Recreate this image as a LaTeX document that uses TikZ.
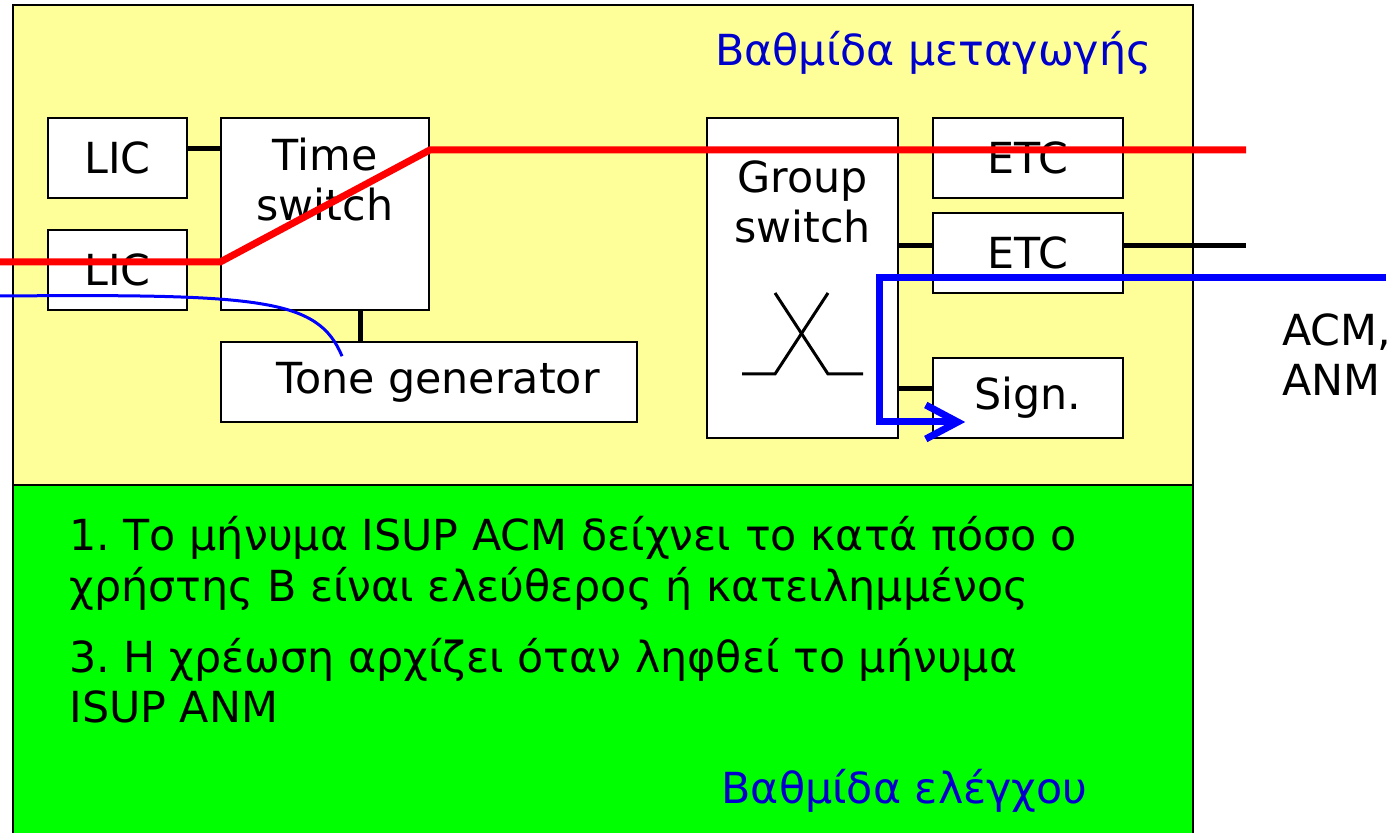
\documentclass[tikz,border=0pt]{standalone}
\usepackage{fontspec}
\setmainfont{DejaVu Sans}
\usetikzlibrary{positioning,arrows.meta}
\definecolor{panelyellow}{RGB}{255,255,153}
\definecolor{panelgreen}{RGB}{0,255,0}
\definecolor{titleblue}{RGB}{0,0,204}
\newcommand{\diagfont}{\fontsize{21.4}{25}\selectfont\frenchspacing}
\begin{document}
\begin{tikzpicture}[
    x=0.5pt, y=-0.5pt,
    node distance=10pt,
    panel/.style={rectangle, draw, line width=1pt, inner sep=0pt},
    unit/.style={rectangle, draw, line width=0.8pt, fill=white, font=\diagfont, inner sep=0pt, minimum width=95pt, minimum height=40pt},
    txt/.style={font=\diagfont, inner sep=0pt},
    link/.style={line width=2.5pt},
    speech/.style={red, line width=3.5pt},
    signal/.style={blue, line width=3.5pt}
  ]
  \useasboundingbox (0,0) rectangle (1391,833);

  % Panels
  \node[panel, fill=panelgreen, minimum width=590pt, minimum height=180pt] (control) at (603,665) {};
  \node[panel, fill=panelyellow, minimum width=590pt, minimum height=240pt] (switching) at (603,245) {};
  \node[txt, titleblue, anchor=base east] (switchtitle) at (1152,66) {Βαθμίδα μεταγωγής};
  \node[txt, titleblue, anchor=base east] (controltitle) at (1088,803) {Βαθμίδα ελέγχου};

  % Subscriber side
  \node[unit, minimum width=69.5pt] (lic1) at (117.5,158) {LIC};
  \node[unit, minimum width=69.5pt] (lic2) at (117.5,270) {LIC};
  \node[unit, minimum width=104pt, minimum height=96pt] (tsw) at (325,214) {};
  \node[txt, align=center, below=10pt of tsw.north] (tswtext) {Time\\switch};
  \node[unit, minimum width=208pt] (tone) at (429,382) {\hspace{9pt}Tone generator};

  % Trunk side
  \node[unit, minimum width=95.5pt, minimum height=160pt] (gsw) at (802.5,278) {};
  \node[txt, align=center, below=21.5pt of gsw.north] (gswtext) {Group\\switch};
  \node[unit] (etc1) at (1028,158) {ETC};
  \node[unit] (etc2) at (1028,253) {ETC};
  \node[unit] (sign) at (1028,398) {Sign.};
  \node[txt, anchor=base west, align=left] (msgs) at (1282,396) {ACM,\\ANM};

  % Group switch symbol
  \draw[line width=1.5pt] (742,374) -- (775,374) -- (828,293);
  \draw[line width=1.5pt] (775,293) -- (828,374) -- (863,374);

  % Internal links
  \draw[link] ([yshift=4.5pt]lic1.east) -- ([yshift=4.5pt]lic1.east -| tsw.west);
  \draw[link] ([xshift=17.5pt]tsw.south) -- ([xshift=17.5pt]tsw.south |- tone.north);
  \draw[link] ([yshift=3.5pt]etc2.west -| gsw.east) -- ([yshift=3.5pt]etc2.west);
  \draw[link] ([yshift=4.5pt]sign.west -| gsw.east) -- ([yshift=4.5pt]sign.west);
  \coordinate (trunkout) at (1246,246);
  \draw[link] (etc2.east |- trunkout) -- (trunkout);

  % Speech path
  \coordinate (redin) at (0,262);
  \coordinate (redout) at (1246,150);
  \draw[speech] (redin) -- (redin -| tsw.west) -- (tsw.east |- redout) -- (redout);

  % Tone to subscriber
  \coordinate (tonein) at (0,296);
  \draw[blue, line width=1.5pt] (tonein) .. controls (260,294) and (318,298) .. ([xshift=-43.5pt,yshift=-7.5pt]tone.north);

  % ISUP messages to signalling
  \coordinate (sigin) at (1386,278);
  \coordinate (sigturn) at (879,278);
  \draw[signal, -{Straight Barb[length=16pt,width=17pt]}] (sigin) -- (sigturn) |- ([xshift=16.5pt,yshift=-12pt]sign.west);

  % Control text
  \node[txt, anchor=base west, align=left] (note1) at (69,601) {1. Το μήνυμα ISUP ACM δείχνει το κατά πόσο ο\\χρήστης B είναι ελεύθερος ή κατειλημμένος};
  \node[txt, anchor=base west, align=left] (note3) at (69,722) {3. Η χρέωση αρχίζει όταν ληφθεί το μήνυμα\\ISUP ANM};
\end{tikzpicture}
\end{document}
